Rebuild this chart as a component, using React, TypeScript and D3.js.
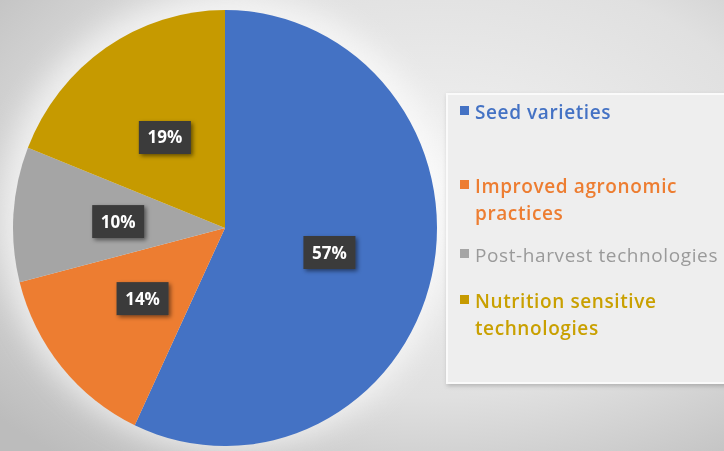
import React from "react";
import * as d3 from "d3";

const categories = ["Seed varieties", "Improved agronomic practices", "Post-harvest technologies", "Nutrition sensitive technologies"];
const values = [57, 14, 10, 19];
const colors = ["#4472C4", "#ED7D31", "#A5A5A5", "#C69A00"];
const textColors = ["#4472C4", "#ED7D31", "#9a9a9a", "#C9A000"];
const legendLines = [["Seed varieties"], ["Improved agronomic", "practices"], ["Post-harvest technologies"], ["Nutrition sensitive", "technologies"]];
const legendY = [119, 193, 262, 308];
const boldFlags = [true, true, false, true];

export default function App() {
  const W = 724, H = 451;
  const cx = 225, cy = 228, rx = 212, ry = 218;
  const pie = d3.pie<number>().sort(null).value((d) => d);
  const arcs = pie(values);
  const arc = d3.arc<d3.PieArcDatum<number>>().innerRadius(0).outerRadius(rx);
  const labelArc = d3.arc<d3.PieArcDatum<number>>().innerRadius(0).outerRadius(214);
  const font = "'Open Sans', Lato, sans-serif";
  return (
    <svg width={W} height={H} style={{ position: "fixed", left: 0, top: 0 }}>
      <defs>
        <radialGradient id="bg" cx="0.6" cy="0.4" r="0.8">
          <stop offset="0" stopColor="#f2f2f2" />
          <stop offset="0.6" stopColor="#e0e0e0" />
          <stop offset="1" stopColor="#bcbcbc" />
        </radialGradient>
        <filter id="glow" x="-30%" y="-30%" width="160%" height="160%">
          <feGaussianBlur stdDeviation="14" />
        </filter>
        <filter id="sh" x="-30%" y="-30%" width="160%" height="160%">
          <feDropShadow dx="2" dy="2" stdDeviation="2" floodColor="#000" floodOpacity="0.5" />
        </filter>
        <filter id="sh2" x="-10%" y="-10%" width="130%" height="130%">
          <feDropShadow dx="1" dy="2" stdDeviation="2" floodColor="#000" floodOpacity="0.2" />
        </filter>
      </defs>
      <rect x={0} y={0} width={W} height={H} fill="url(#bg)" />
      <ellipse cx={cx} cy={cy - 6} rx={rx + 14} ry={ry + 10} fill="#ffffff" opacity={0.6} filter="url(#glow)" />
      <g transform={`translate(${cx},${cy}) scale(1,${ry / rx})`}>
        {arcs.map((a, i) => (
          <path key={i} d={arc(a) || ""} fill={colors[i]} />
        ))}
      </g>
      {arcs.map((a, i) => {
        const [lx, ly] = labelArc.centroid(a);
        const x = cx + lx, y = cy + ly * (ry / rx);
        return (
          <g key={i} transform={`translate(${x},${y})`}>
            <rect x={-26} y={-16} width={52} height={33} fill="#3a3a3a" filter="url(#sh)" />
            <text x={0} y={6.5} textAnchor="middle" fill="#ffffff" fontFamily={font} fontWeight="bold" fontSize={17}>
              {values[i]}%
            </text>
          </g>
        );
      })}
      <rect x={447} y={94} width={290} height={289} fill="#eeeeee" stroke="#fafafa" strokeWidth={2} filter="url(#sh2)" />
      {legendLines.map((lines, i) => (
        <g key={i}>
          <rect x={460} y={legendY[i] - 13} width={9} height={9} fill={colors[i]} />
          {lines.map((ln, j) => (
            <text key={j} x={475} y={legendY[i] + j * 27} fill={textColors[i]} fontFamily={font} fontWeight={boldFlags[i] ? 600 : "normal"} fontSize={19} letterSpacing={0.6}>
              {ln}
            </text>
          ))}
        </g>
      ))}
    </svg>
  );
}
